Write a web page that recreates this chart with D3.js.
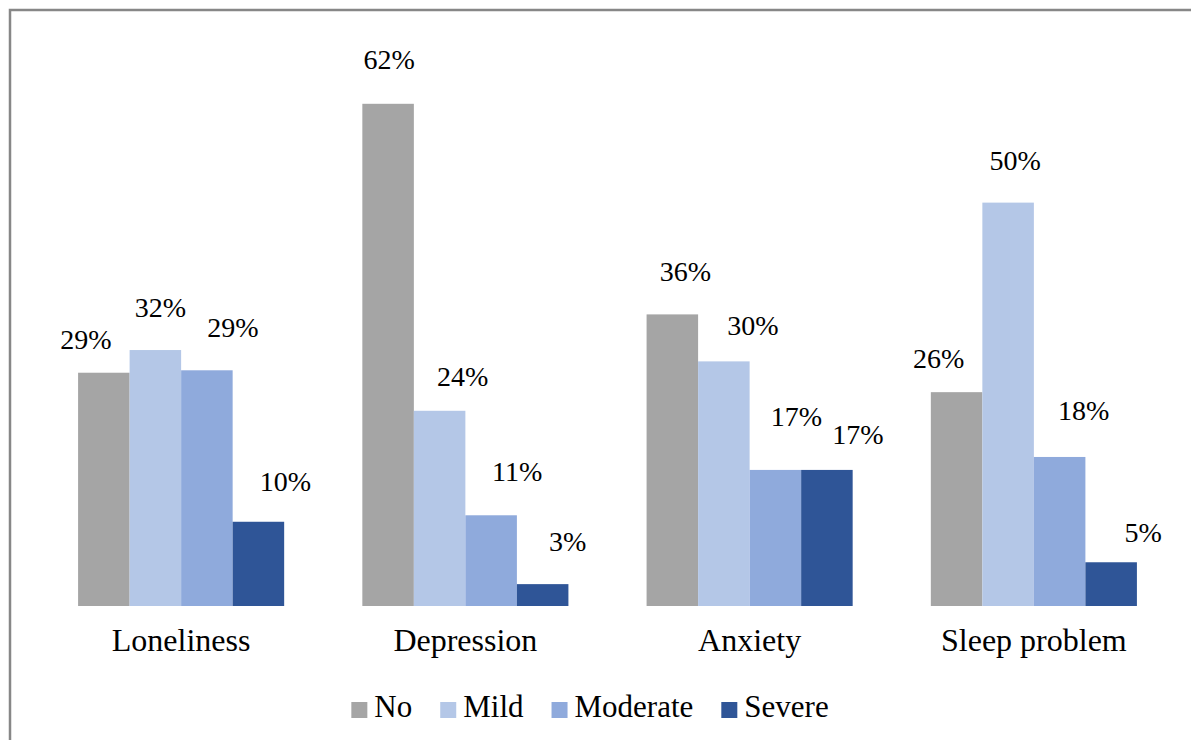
<!DOCTYPE html>
<html>
<head>
<meta charset="utf-8">
<script src="https://cdn.jsdelivr.net/npm/d3@7"></script>
<style>
  body { margin: 0; background: #fff; }
</style>
</head>
<body>
<div id="chart"></div>
<script>
const categories = ["Loneliness", "Depression", "Anxiety", "Sleep problem"];
const severity = ["No", "Mild", "Moderate", "Severe"];
const colors = ["#a5a5a5", "#b4c7e7", "#8faadc", "#2f5597"];

// percent of respondents, one array per category (No, Mild, Moderate, Severe)
const loneliness = [28.8, 31.6, 29.1, 10.4];
const depression = [62.0, 24.1, 11.2, 2.7];
const anxiety = [36.0, 30.2, 16.8, 16.8];
const sleepProblem = [26.4, 49.8, 18.4, 5.4];

const values = [loneliness, depression, anxiety, sleepProblem];

// label nudges as they sit in the original (dx from bar centre, gap above bar top)
const labelDx = [
  [-18, 5, 26, 27],
  [1, 23, 26, 25],
  [13, 29, 21, 31],
  [-18, 7, 24, 32]
];
const labelGap = [
  [24, 33, 33, 31],
  [35, 25, 34, 33],
  [33, 26, 44, 26],
  [24, 33, 37, 20]
];

const width = 1191, height = 740;
const baseY = 606;
const serif = "'Liberation Serif', 'Times New Roman', serif";

const svg = d3.select("#chart").append("svg")
  .attr("width", width)
  .attr("height", height)
  .style("font-family", serif);

svg.append("rect")
  .attr("x", 10)
  .attr("y", 10)
  .attr("width", width + 20)
  .attr("height", height + 20)
  .attr("fill", "#fff")
  .attr("stroke", "#878787")
  .attr("stroke-width", 2.5);

const x0 = d3.scaleBand()
  .domain(categories)
  .range([39, 1176])
  .paddingInner(0.275)
  .paddingOuter(0.1375);

const x1 = d3.scaleBand()
  .domain(severity)
  .range([0, x0.bandwidth()]);

const y = d3.scaleLinear()
  .domain([0, 70])
  .range([baseY, baseY - 70 * 8.1]);

const groups = svg.append("g")
  .selectAll("g")
  .data(categories)
  .join("g")
    .attr("transform", d => `translate(${x0(d)},0)`);

groups.selectAll("rect")
  .data((c, i) => values[i].map((v, j) => ({ c: i, s: j, v })))
  .join("rect")
    .attr("x", d => x1(severity[d.s]))
    .attr("y", d => y(d.v))
    .attr("width", x1.bandwidth())
    .attr("height", d => y(0) - y(d.v))
    .attr("fill", d => colors[d.s]);

groups.selectAll("text.val")
  .data((c, i) => values[i].map((v, j) => ({ c: i, s: j, v })))
  .join("text")
    .attr("class", "val")
    .attr("x", d => x1(severity[d.s]) + x1.bandwidth() / 2 + labelDx[d.c][d.s])
    .attr("y", d => y(d.v) - labelGap[d.c][d.s])
    .attr("text-anchor", "middle")
    .attr("font-size", 28)
    .style("font-family", serif)
    .attr("fill", "#000")
    .text(d => Math.round(d.v) + "%");

// category axis (no line, labels only)
const xAxis = svg.append("g")
  .attr("transform", `translate(0,${baseY})`)
  .call(d3.axisBottom(x0).tickSize(0).tickPadding(0));
xAxis.select(".domain").remove();
xAxis.selectAll("text")
  .attr("dy", null)
  .attr("y", 45)
  .attr("font-size", 32)
  .style("font-family", serif)
  .attr("fill", "#000");

// legend
const legend = svg.append("g");
const items = legend.selectAll("g")
  .data(severity)
  .join("g");
items.append("rect")
  .attr("y", -15)
  .attr("width", 16)
  .attr("height", 16)
  .attr("fill", (d, i) => colors[i]);
items.append("text")
  .attr("x", 23)
  .attr("y", 0)
  .attr("font-size", 31)
  .style("font-family", serif)
  .attr("fill", "#000")
  .text(d => d);

let cursor = 0;
items.each(function() {
  const g = d3.select(this);
  g.attr("transform", `translate(${cursor},0)`);
  cursor += 23 + g.select("text").node().getComputedTextLength() + 28;
});
const legendW = cursor - 28;
legend.attr("transform", `translate(${590 - legendW / 2},717)`);
</script>
</body>
</html>
